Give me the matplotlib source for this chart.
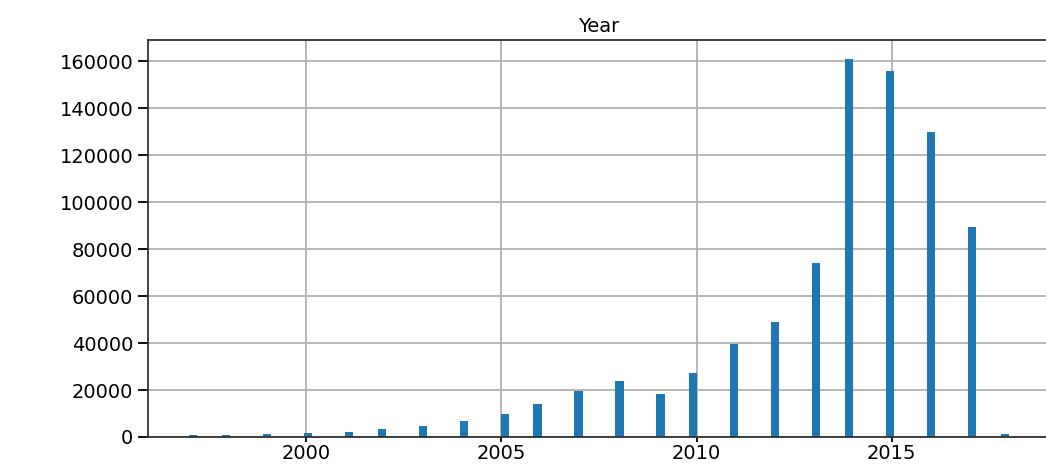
import matplotlib.pyplot as plt

# counts per year
years = [1997, 1998, 1999, 2000, 2001, 2002, 2003, 2004, 2005, 2006, 2007,
         2008, 2009, 2010, 2011, 2012, 2013, 2014, 2015, 2016, 2017, 2018]
counts = [900, 800, 1200, 1700, 2200, 3300, 4800, 7000, 10000, 14000, 19500,
          23700, 18400, 27100, 39400, 48800, 74200, 161000, 155800, 129700, 89400, 1100]

fig = plt.figure(figsize=(10.46, 4.67), dpi=100)
ax = fig.add_axes([148 / 1046, 30 / 467, 902 / 1046, 397 / 467])

# same as Series.hist(bins=100) on the raw column
ax.hist(years, bins=100, weights=counts, color='#1f77b4')
ax.grid(True, color='#b0b0b0', linewidth=1.3)
ax.set_axisbelow(True)
ax.set_title('Year', fontsize=14)
ax.tick_params(labelsize=14, width=1.3)
ax.tick_params(axis='x', length=3.5, pad=1.5)
ax.tick_params(axis='y', length=7)
for s in ax.spines.values():
    s.set_linewidth(1.3)
    s.set_color('#333333')

fig.savefig('out.png', dpi=100)
